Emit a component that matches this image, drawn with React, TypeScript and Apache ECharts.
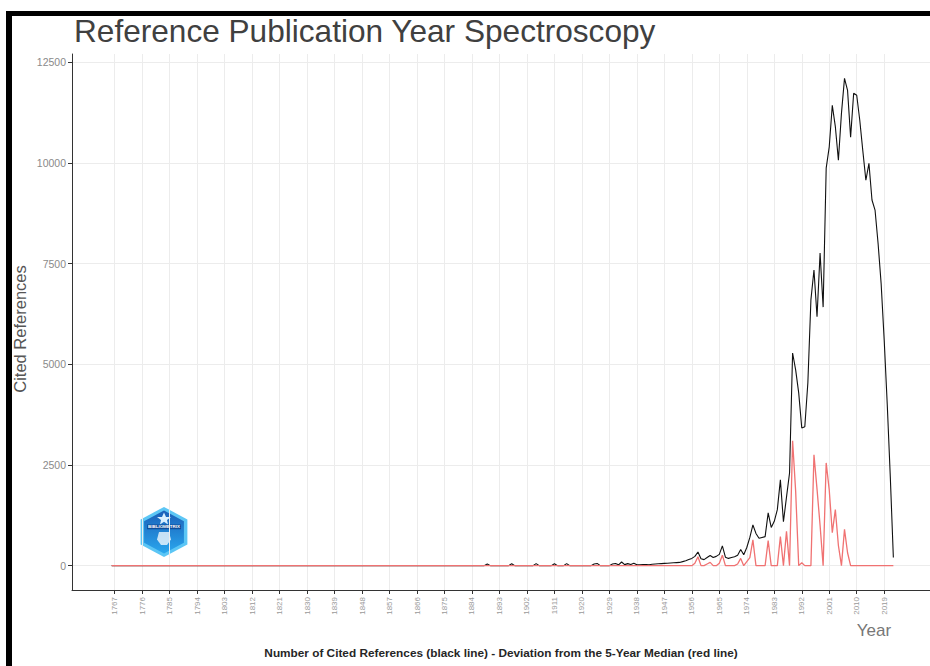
import React, { useEffect, useRef } from "react";
import * as echarts from "echarts";

// ---- data ----
const firstYear = 1766;

// Number of cited references per reference publication year (black line), 1766..2022
const citedRefs: number[] = [
  0, 0, 0, 0,
  0, 0, 0, 0, 0, 0, 0, 0, 0, 0, // 1770s
  0, 0, 0, 0, 0, 0, 0, 0, 0, 0, // 1780s
  0, 0, 0, 0, 0, 0, 0, 0, 0, 0, // 1790s
  0, 0, 0, 0, 0, 0, 0, 0, 0, 0, // 1800s
  0, 0, 0, 0, 0, 0, 0, 0, 0, 0, // 1810s
  0, 0, 0, 0, 0, 0, 0, 0, 0, 0, // 1820s
  0, 0, 0, 0, 0, 0, 0, 0, 0, 0, // 1830s
  0, 0, 0, 0, 0, 0, 0, 0, 0, 0, // 1840s
  0, 0, 0, 0, 0, 0, 0, 0, 0, 0, // 1850s
  0, 0, 0, 0, 0, 0, 0, 0, 0, 0, // 1860s
  0, 0, 0, 0, 0, 0, 0, 0, 0, 0, // 1870s
  0, 0, 0, 0, 0, 0, 0, 0, 0, 40, // 1880s
  0, 0, 0, 0, 0, 0, 0, 45, 0, 0, // 1890s
  0, 0, 0, 0, 0, 50, 0, 0, 0, 0, // 1900s
  0, 45, 0, 0, 0, 50, 0, 0, 0, 0, // 1910s
  0, 0, 0, 0, 40, 55, 0, 0, 0, 0, // 1920s
  40, 55, 20, 90, 25, 50, 30, 60, 20, 20, // 1930s
  25, 30, 20, 35, 40, 45, 50, 55, 60, 65, // 1940s
  70, 75, 80, 100, 120, 150, 180, 230, 340, 170, // 1950s
  150, 200, 250, 200, 230, 280, 490, 210, 180, 200, // 1960s
  220, 260, 400, 270, 450, 700, 1010, 800, 680, 700, // 1970s
  720, 1310, 950, 1100, 1390, 2130, 1090, 1700, 2300, 5280, // 1980s
  4860, 4290, 3420, 3450, 4540, 6600, 7340, 6180, 7760, 6420, // 1990s
  9870, 10400, 11430, 10900, 10070, 11230, 12100, 11800, 10640, 11730, // 2000s
  11680, 11060, 10300, 9570, 9990, 9080, 8830, 8000, 7000, 5600, // 2010s
  4000, 2200, 200, // 2020s
];

// Deviation from the 5-year median (red line), 1766..2022
const deviation: number[] = [
  0, 0, 0, 0,
  0, 0, 0, 0, 0, 0, 0, 0, 0, 0, // 1770s
  0, 0, 0, 0, 0, 0, 0, 0, 0, 0, // 1780s
  0, 0, 0, 0, 0, 0, 0, 0, 0, 0, // 1790s
  0, 0, 0, 0, 0, 0, 0, 0, 0, 0, // 1800s
  0, 0, 0, 0, 0, 0, 0, 0, 0, 0, // 1810s
  0, 0, 0, 0, 0, 0, 0, 0, 0, 0, // 1820s
  0, 0, 0, 0, 0, 0, 0, 0, 0, 0, // 1830s
  0, 0, 0, 0, 0, 0, 0, 0, 0, 0, // 1840s
  0, 0, 0, 0, 0, 0, 0, 0, 0, 0, // 1850s
  0, 0, 0, 0, 0, 0, 0, 0, 0, 0, // 1860s
  0, 0, 0, 0, 0, 0, 0, 0, 0, 0, // 1870s
  0, 0, 0, 0, 0, 0, 0, 0, 0, 0, // 1880s
  0, 0, 0, 0, 0, 0, 0, 0, 0, 0, // 1890s
  0, 0, 0, 0, 0, 0, 0, 0, 0, 0, // 1900s
  0, 0, 0, 0, 0, 0, 0, 0, 0, 0, // 1910s
  0, 0, 0, 0, 0, 0, 0, 0, 0, 0, // 1920s
  0, 0, 0, 0, 0, 0, 0, 0, 0, 0, // 1930s
  0, 0, 0, 0, 0, 0, 0, 0, 0, 0, // 1940s
  0, 0, 0, 0, 0, 0, 0, 60, 220, 0, // 1950s
  0, 40, 80, 0, 0, 60, 260, 0, 0, 0, // 1960s
  0, 40, 180, 0, 100, 200, 640, 0, 0, 0, // 1970s
  0, 620, 0, 0, 0, 720, 0, 850, 0, 3100, // 1980s
  1850, 0, 70, 0, 0, 0, 2750, 1900, 1000, 0, // 1990s
  2550, 1880, 820, 1390, 500, 0, 900, 320, 0, 0, // 2000s
  0, 0, 0, 0, 0, 0, 0, 0, 0, 0, // 2010s
  0, 0, 0, // 2020s
];

const xTickYears = [
  1767, 1776, 1785, 1794, 1803, 1812, 1821, 1830, 1839, 1848, 1857, 1866, 1875, 1884, 1893,
  1902, 1911, 1920, 1929, 1938, 1947, 1956, 1965, 1974, 1983, 1992, 2001, 2010, 2019,
];
const yTickValues = [0, 2500, 5000, 7500, 10000, 12500];

const titleText = "Reference Publication Year Spectroscopy";
const yTitle = "Cited References";
const xTitle = "Year";
const caption =
  "Number of Cited References (black line) - Deviation from the 5-Year Median (red line)";

const FONT = "'Liberation Sans', Arial, Helvetica, sans-serif";

function hex(r: number): number[][] {
  const pts: number[][] = [];
  for (let k = 0; k < 6; k++) {
    const a = -Math.PI / 2 + (k * Math.PI) / 3;
    pts.push([r * Math.cos(a), r * Math.sin(a)]);
  }
  return pts;
}

export default function App() {
  const ref = useRef<HTMLDivElement>(null);

  useEffect(() => {
    if (!ref.current) return;
    const chart = echarts.init(ref.current, undefined, { renderer: "svg" });
    const years = citedRefs.map((_, i) => firstYear + i);
    const blackData = years.map((y, i) => [y, citedRefs[i]]);
    const redData = years.map((y, i) => [y, deviation[i]]);

    chart.setOption({
      animation: false,
      backgroundColor: "#ffffff",
      textStyle: { fontFamily: FONT },
      grid: { left: 72, top: 54, right: 0, bottom: 76, containLabel: false },
      xAxis: {
        type: "value",
        min: 1753,
        max: 2034,
        axisLine: { show: true, onZero: false, lineStyle: { color: "#333333", width: 1 } },
        axisTick: {
          show: true,
          length: 4,
          customValues: xTickYears,
          lineStyle: { color: "#333333" },
        },
        axisLabel: {
          customValues: xTickYears,
          rotate: 90,
          fontSize: 8,
          color: "#9a9a9a",
          margin: 7,
          fontFamily: FONT,
          formatter: (v: number) => String(v),
        },
        splitLine: { show: true, lineStyle: { color: "#ececec", width: 1 } },
      },
      yAxis: {
        type: "value",
        min: -605,
        max: 12705,
        axisLine: { show: true, onZero: false, lineStyle: { color: "#333333", width: 1 } },
        axisTick: {
          show: true,
          length: 4,
          customValues: yTickValues,
          lineStyle: { color: "#333333" },
        },
        axisLabel: {
          customValues: yTickValues,
          fontSize: 10.5,
          color: "#8a8a8a",
          margin: 6,
          fontFamily: FONT,
          formatter: (v: number) => String(v),
        },
        splitLine: { show: true, lineStyle: { color: "#ececec", width: 1 } },
      },
      series: [
        {
          type: "line",
          name: "Cited References",
          data: blackData,
          symbol: "none",
          silent: true,
          lineStyle: { color: "#111111", width: 1.1 },
          z: 2,
        },
        {
          type: "line",
          name: "Deviation",
          data: redData,
          symbol: "none",
          silent: true,
          lineStyle: { color: "#f07272", width: 1.3 },
          z: 3,
        },
      ],
      graphic: [
        { type: "rect", shape: { x: 6, y: 11, width: 924, height: 5 }, style: { fill: "#000" } },
        { type: "rect", shape: { x: 6, y: 11, width: 6, height: 655 }, style: { fill: "#000" } },
        {
          type: "text",
          x: 74,
          y: 31,
          style: {
            text: titleText,
            fontSize: 31.6,
            fontFamily: FONT,
            fill: "#404040",
            align: "left",
            verticalAlign: "middle",
          },
        },
        {
          type: "text",
          x: 20,
          y: 329,
          rotation: Math.PI / 2,
          style: {
            text: yTitle,
            fontSize: 16.5,
            fontFamily: FONT,
            fill: "#555555",
            align: "center",
            verticalAlign: "middle",
          },
        },
        {
          type: "text",
          x: 874,
          y: 630,
          style: {
            text: xTitle,
            fontSize: 17,
            fontFamily: FONT,
            fill: "#777777",
            align: "center",
            verticalAlign: "middle",
          },
        },
        {
          type: "text",
          x: 501,
          y: 653,
          style: {
            text: caption,
            fontSize: 11.8,
            fontWeight: "bold",
            fontFamily: FONT,
            fill: "#262626",
            align: "center",
            verticalAlign: "middle",
          },
        },
        {
          type: "group",
          x: 164,
          y: 532,
          scaleY: 0.93,
          z: 10,
          children: [
            { type: "polygon", shape: { points: hex(27) }, style: { fill: "#5cc6f5" } },
            {
              type: "polygon",
              shape: { points: hex(23) },
              style: {
                fill: new echarts.graphic.LinearGradient(0, 0, 0, 1, [
                  { offset: 0, color: "#1a5fb8" },
                  { offset: 1, color: "#2aa7ee" },
                ]),
              },
            },
            {
              type: "polygon",
              shape: { points: [[0, -21], [2, -16], [7, -16], [3, -13], [4, -8], [0, -11], [-4, -8], [-3, -13], [-7, -16], [-2, -16]] },
              style: { fill: "#d9efff" },
            },
            {
              type: "rect",
              shape: { x: -17, y: -8, width: 34, height: 5 },
              style: { fill: "#0f4d9a" },
            },
            {
              type: "text",
              x: 0,
              y: -5.5,
              style: {
                text: "BIBLIOMETRIX",
                fontSize: 4.5,
                fontWeight: "bold",
                fontFamily: FONT,
                fill: "#ffffff",
                align: "center",
                verticalAlign: "middle",
              },
            },
            {
              type: "polygon",
              shape: { points: [[-5, 0], [5, 0], [7, 8], [3, 14], [-3, 14], [-7, 8]] },
              style: { fill: "rgba(255,255,255,0.75)" },
            },
          ],
        },
      ],
    });

    return () => chart.dispose();
  }, []);

  return (
    <div
      ref={ref}
      style={{ position: "absolute", left: 0, top: 0, width: 930, height: 666 }}
    />
  );
}
